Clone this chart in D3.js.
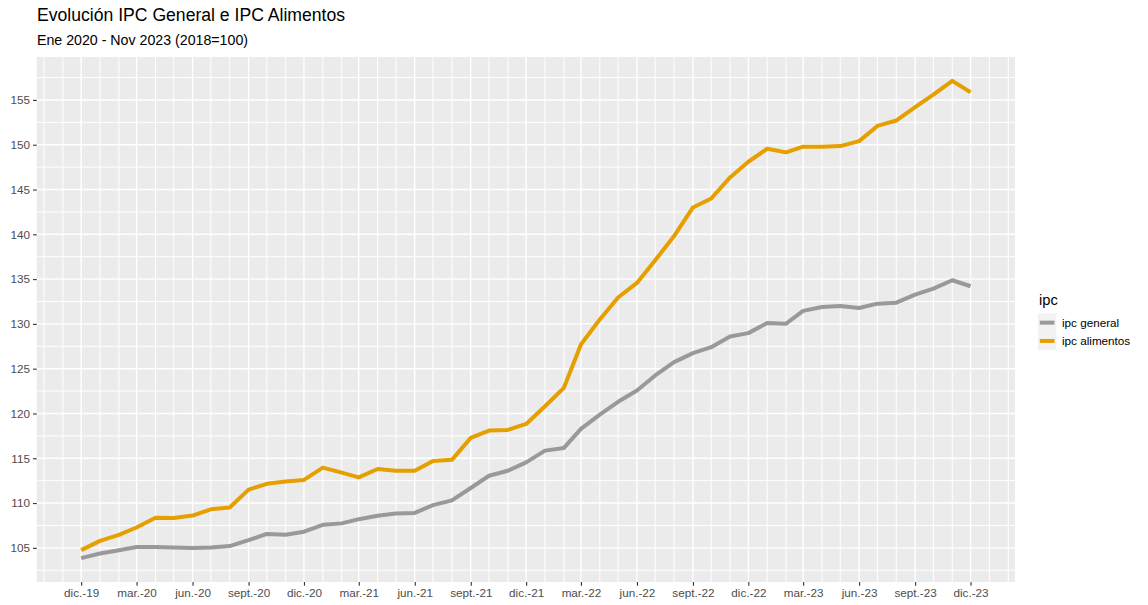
<!DOCTYPE html>
<html>
<head>
<meta charset="utf-8">
<script src="https://cdn.jsdelivr.net/npm/d3@7"></script>
<style>
  body { margin: 0; background: #fff; }
  text { font-family: "Liberation Sans", Arial, sans-serif; }
</style>
</head>
<body>
<script>
// monthly index values, dic.-19 ... dic.-23
var ipcGeneral = [103.85, 104.37, 104.74, 105.1, 105.1, 105.04, 104.97, 105.04, 105.2, 105.86,
    106.55, 106.45, 106.8, 107.57, 107.73, 108.2, 108.58, 108.84, 108.9, 109.77,
    110.3, 111.68, 113.05, 113.6, 114.54, 115.85, 116.15, 118.28, 119.88, 121.3,
    122.56, 124.24, 125.73, 126.74, 127.4, 128.6, 128.97, 130.1, 130.02, 131.45,
    131.88, 131.99, 131.77, 132.26, 132.37, 133.27, 133.94, 134.87, 134.2];
var ipcAlimentos = [104.74, 105.78, 106.45, 107.27, 108.36, 108.32, 108.6, 109.3, 109.5, 111.5,
    112.15, 112.4, 112.58, 113.95, 113.4, 112.87, 113.8, 113.6, 113.6, 114.7,
    114.82, 117.27, 118.09, 118.16, 118.83, 120.8, 122.86, 127.7, 130.5, 132.95,
    134.57, 137.1, 139.8, 143.0, 144.0, 146.35, 148.1, 149.55, 149.15, 149.78,
    149.78, 149.85, 150.4, 152.1, 152.7, 154.2, 155.6, 157.13, 155.86];
var seriesNames = ["ipc general", "ipc alimentos"];
var seriesColors = ["#999999", "#E69F00"];
var tickLabels = ["dic.-19", "mar.-20", "jun.-20", "sept.-20", "dic.-20", "mar.-21", "jun.-21",
    "sept.-21", "dic.-21", "mar.-22", "jun.-22", "sept.-22", "dic.-22", "mar.-23", "jun.-23",
    "sept.-23", "dic.-23"];
var yTicks = [105, 110, 115, 120, 125, 130, 135, 140, 145, 150, 155];

var W = 1148, H = 605;
var panel = { left: 36.7, right: 1015, top: 57, bottom: 582 };

var months = d3.timeMonth.range(new Date(2019, 11, 1), new Date(2023, 11, 2));
var series = [ipcGeneral, ipcAlimentos];

var svg = d3.select("body").append("svg")
    .attr("width", W)
    .attr("height", H);

// scales with ggplot-like 5% expansion
var t0 = months[0].getTime(), t1 = months[months.length - 1].getTime();
var tPad = (t1 - t0) * 0.05;
var x = d3.scaleTime()
    .domain([new Date(t0 - tPad), new Date(t1 + tPad)])
    .range([panel.left, panel.right]);

var allVals = ipcGeneral.concat(ipcAlimentos);
var yMin = d3.min(allVals), yMax = d3.max(allVals);
var yPad = (yMax - yMin) * 0.05;
var y = d3.scaleLinear()
    .domain([yMin - yPad, yMax + yPad])
    .range([panel.bottom, panel.top]);

// panel background
svg.append("rect")
    .attr("x", panel.left)
    .attr("y", panel.top)
    .attr("width", panel.right - panel.left)
    .attr("height", panel.bottom - panel.top)
    .attr("fill", "#EBEBEB");

var grid = svg.append("g").attr("class", "grid");

// minor gridlines
var yMinor = yTicks.map(function (d) { return d - 2.5; }).concat([157.5]);
grid.selectAll(".ymin")
    .data(yMinor.filter(function (d) { return y(d) > panel.top && y(d) < panel.bottom; }))
    .enter().append("line")
    .attr("x1", panel.left).attr("x2", panel.right)
    .attr("y1", function (d) { return y(d); })
    .attr("y2", function (d) { return y(d); })
    .attr("stroke", "#fff").attr("stroke-width", 1);

var gridMonths = d3.timeMonth.range(new Date(2019, 9, 1), new Date(2024, 1, 2));
grid.selectAll(".xmin")
    .data(gridMonths.filter(function (d) { return d.getMonth() % 3 != 2; }))
    .enter().append("line")
    .attr("y1", panel.top).attr("y2", panel.bottom)
    .attr("x1", function (d) { return x(d); })
    .attr("x2", function (d) { return x(d); })
    .attr("stroke", "#fff").attr("stroke-width", 1);

// major gridlines
grid.selectAll(".ymaj")
    .data(yTicks)
    .enter().append("line")
    .attr("x1", panel.left).attr("x2", panel.right)
    .attr("y1", function (d) { return y(d); })
    .attr("y2", function (d) { return y(d); })
    .attr("stroke", "#fff").attr("stroke-width", 1.4);

var tickDates = months.filter(function (d, i) { return i % 3 == 0; });
grid.selectAll(".xmaj")
    .data(tickDates)
    .enter().append("line")
    .attr("y1", panel.top).attr("y2", panel.bottom)
    .attr("x1", function (d) { return x(d); })
    .attr("x2", function (d) { return x(d); })
    .attr("stroke", "#fff").attr("stroke-width", 1.4);

// axes
var yAxis = svg.append("g")
    .attr("transform", "translate(" + panel.left + ",0)")
    .call(d3.axisLeft(y).tickValues(yTicks).tickSize(3.7).tickPadding(3));
yAxis.select(".domain").remove();
yAxis.selectAll("line").attr("stroke", "#333333").attr("stroke-width", 1.1);
yAxis.selectAll("text")
    .attr("fill", "#4D4D4D")
    .style("font-size", "11.7px")
    .style("font-family", "'Liberation Sans', Arial, sans-serif");

var xAxis = svg.append("g")
    .attr("transform", "translate(0," + panel.bottom + ")")
    .call(d3.axisBottom(x).tickValues(tickDates)
        .tickFormat(function (d, i) { return tickLabels[i]; })
        .tickSize(3.7).tickPadding(3));
xAxis.select(".domain").remove();
xAxis.selectAll("line").attr("stroke", "#333333").attr("stroke-width", 1.1);
xAxis.selectAll("text")
    .attr("fill", "#4D4D4D")
    .style("font-size", "11.7px")
    .style("font-family", "'Liberation Sans', Arial, sans-serif");

// lines
var line = d3.line()
    .x(function (d, i) { return x(months[i]); })
    .y(function (d) { return y(d); });

svg.append("g").attr("class", "lines")
    .selectAll("path")
    .data(series)
    .enter().append("path")
    .attr("d", line)
    .attr("fill", "none")
    .attr("stroke", function (d, i) { return seriesColors[i]; })
    .attr("stroke-width", 4)
    .attr("stroke-linejoin", "round");

// titles
svg.append("text")
    .attr("x", 37).attr("y", 21)
    .style("font-size", "17.6px")
    .attr("fill", "#000")
    .text("Evolución IPC General e IPC Alimentos");
svg.append("text")
    .attr("x", 37).attr("y", 45)
    .style("font-size", "14.2px")
    .attr("fill", "#000")
    .text("Ene 2020 - Nov 2023 (2018=100)");

// legend
var legend = svg.append("g").attr("transform", "translate(1038,0)");
legend.append("text")
    .attr("x", 1).attr("y", 305)
    .style("font-size", "14.7px")
    .attr("fill", "#000")
    .text("ipc");
var keys = legend.selectAll(".key")
    .data(seriesNames)
    .enter().append("g")
    .attr("transform", function (d, i) { return "translate(0," + (313.5 + i * 18.3) + ")"; });
keys.append("rect")
    .attr("width", 18.3).attr("height", 18.3)
    .attr("fill", "#F2F2F2");
keys.append("line")
    .attr("x1", 1.8).attr("x2", 16.5)
    .attr("y1", 9.15).attr("y2", 9.15)
    .attr("stroke", function (d, i) { return seriesColors[i]; })
    .attr("stroke-width", 4);
keys.append("text")
    .attr("x", 24).attr("y", 9.15)
    .attr("dy", "0.35em")
    .style("font-size", "11.7px")
    .attr("fill", "#000")
    .text(function (d) { return d; });
</script>
</body>
</html>
